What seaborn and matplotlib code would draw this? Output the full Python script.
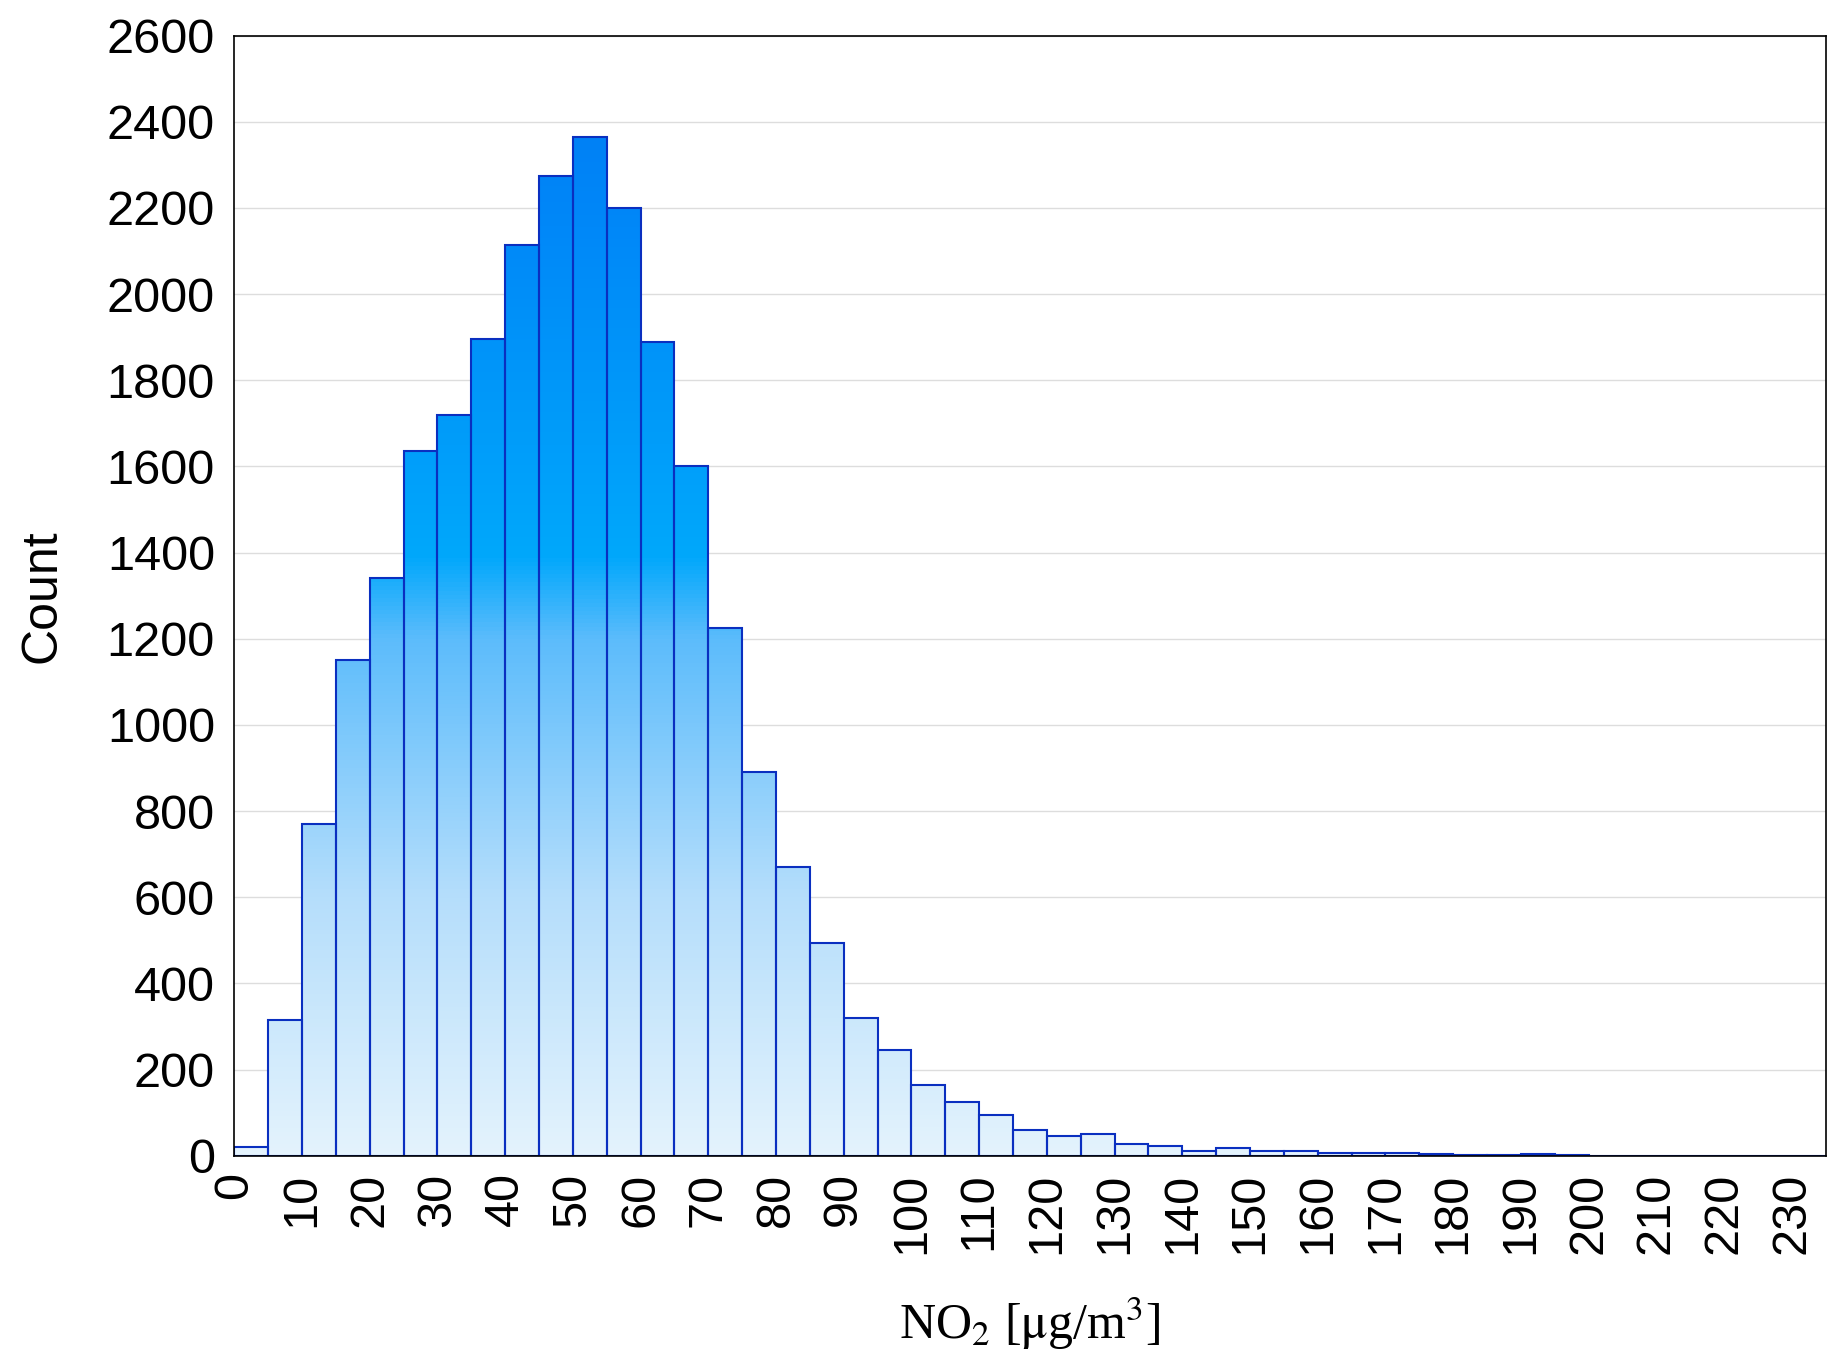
import numpy as np
import matplotlib
matplotlib.use("Agg")
import matplotlib.pyplot as plt
import seaborn as sns
from matplotlib.colors import LinearSegmentedColormap

bin_left = list(range(0, 235, 5))
counts = [20, 315, 770, 1150, 1340, 1635, 1720, 1895, 2115, 2275, 2365, 2200,
          1890, 1600, 1225, 890, 670, 495, 320, 245, 165, 125, 95, 60, 45, 50,
          28, 22, 12, 18, 10, 10, 7, 6, 6, 5, 2, 2, 5, 1, 0, 0, 0, 0, 0, 0, 0]
xticks = list(range(0, 240, 10))
yticks = list(range(0, 2800, 200))

sns.set_theme(style="white")
plt.rcParams['font.family'] = ['Liberation Sans', 'DejaVu Sans']
plt.rcParams['mathtext.fontset'] = 'stix'

fig = plt.figure(figsize=(18.31, 13.71), dpi=100)
ax = fig.add_axes([0.128, 0.157, 0.869, 0.817])

centers = [b + 2.5 for b in bin_left]
sns.histplot(x=centers, weights=counts, binwidth=5, binrange=(0, 235), ax=ax,
             edgecolor="#0a2fc0", linewidth=1.5, alpha=1, zorder=2)

cmap = LinearSegmentedColormap.from_list("g", [(0, "#e4f3fd"), (0.25, "#b5defb"),
                                              (0.5, "#5cbcfb"), (0.58, "#00a8fb"),
                                              (0.9, "#0088f8"), (1, "#0080f5")])
grad = np.linspace(0, 1, 256).reshape(-1, 1)
for p in ax.patches:
    p.set_facecolor("none")
    im = ax.imshow(grad, cmap=cmap, origin="lower", aspect="auto",
                   extent=(0, 235, 0, 2400), zorder=1)
    im.set_clip_path(p)
ax.set_xlim(0, 235)
ax.set_ylim(0, 2600)

ax.set_xticks(xticks)
ax.set_xticklabels([str(t) for t in xticks], rotation=90)
ax.set_yticks(yticks)
ax.tick_params(labelsize=35, length=0, labelcolor="black")
ax.tick_params(axis="x", pad=12)
ax.tick_params(axis="y", pad=14)
ax.yaxis.grid(True, color="#dddddd", linewidth=1)
ax.set_axisbelow(True)
for s in ax.spines.values():
    s.set_color("black")
    s.set_linewidth(1.2)
ax.set_ylabel("Count", fontsize=36, color="black", labelpad=30)
ax.set_xlabel(r"NO$_2$ [$\mathrm{\mu}$g/m$^3$]", fontsize=36, color="black",
              family="Liberation Serif", labelpad=30)
fig.savefig("out.png", dpi=100)
